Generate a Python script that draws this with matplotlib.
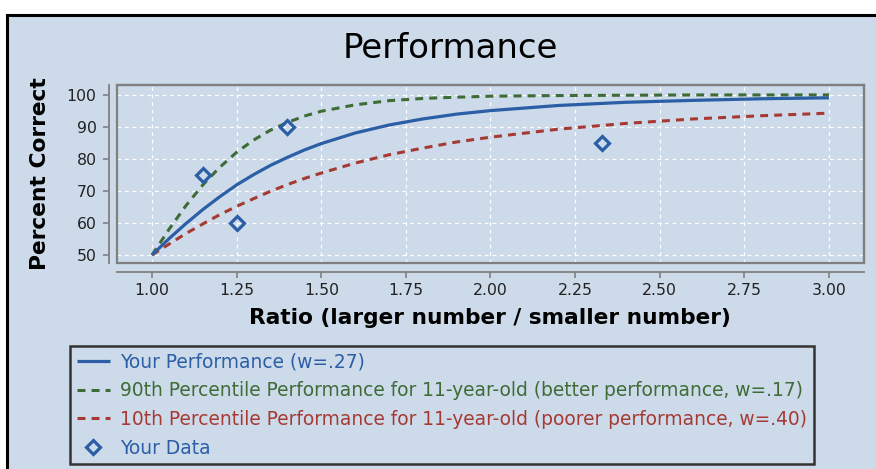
import matplotlib
matplotlib.use("Agg")
import matplotlib.pyplot as plt
from matplotlib.patches import Rectangle

# ---- data ----
ratio = [1.00, 1.05, 1.10, 1.15, 1.20, 1.25, 1.30, 1.35, 1.40, 1.45, 1.50,
         1.60, 1.70, 1.80, 1.90, 2.00, 2.20, 2.40, 2.60, 2.80, 3.00]
your_perf = [50, 55.1, 59.8, 64.2, 68.2, 71.9, 75.1, 78.0, 80.5, 82.8, 84.8,
             88.1, 90.6, 92.5, 94.0, 95.1, 96.7, 97.7, 98.3, 98.8, 99.1]
p90_perf = [50, 58.0, 65.4, 71.9, 77.4, 82.1, 85.9, 89.0, 91.4, 93.4, 94.9,
            96.9, 98.2, 98.9, 99.3, 99.6, 99.8, 99.9, 100, 100, 100]
p10_perf = [50, 53.4, 56.7, 59.7, 62.6, 65.2, 67.6, 69.9, 72.0, 73.9, 75.6,
            78.7, 81.3, 83.4, 85.3, 86.8, 89.3, 91.1, 92.5, 93.5, 94.3]
data_ratio = [1.15, 1.25, 1.40, 2.33]
data_pct = [75, 60, 90, 85]

xticks = [1.00, 1.25, 1.50, 1.75, 2.00, 2.25, 2.50, 2.75, 3.00]
yticks = [50, 60, 70, 80, 90, 100]

labels = ["Your Performance (w=.27)",
          "90th Percentile Performance for 11-year-old (better performance, w=.17)",
          "10th Percentile Performance for 11-year-old (poorer performance, w=.40)",
          "Your Data"]

# ---- style ----
BG = "#CCDAEA"
BLUE = "#2C5EA6"
GREEN = "#3E6B36"
RED = "#A63A33"
GRAY = "#808080"

W, H = 876, 469
DPI = 100
fig = plt.figure(figsize=(W / DPI, H / DPI), dpi=DPI)
fig.patch.set_facecolor("white")

# chart panel with black top/left border
panel = Rectangle((7 / W, -0.1), 1.2, (H - 15) / H + 0.1, transform=fig.transFigure,
                  facecolor=BG, edgecolor="black", lw=2.2, zorder=-10)
fig.patches.append(panel)

px_l, px_r, px_t, px_b = 117, 864, 85, 263
ax = fig.add_axes([px_l / W, (H - px_b) / H, (px_r - px_l) / W, (px_b - px_t) / H])
ax.set_facecolor(BG)

DASH = (0, (2.6, 2.0))
ax.plot(ratio, your_perf, color=BLUE, lw=2.3, solid_capstyle="butt", label=labels[0], zorder=4)
ax.plot(ratio, p90_perf, color=GREEN, lw=2.2, linestyle=DASH, label=labels[1], zorder=3)
ax.plot(ratio, p10_perf, color=RED, lw=2.2, linestyle=DASH, label=labels[2], zorder=3)
ax.plot(data_ratio, data_pct, linestyle="none", marker="D", markersize=7,
        markerfacecolor="none", markeredgecolor=BLUE, markeredgewidth=2.3,
        color=BLUE, label=labels[3], zorder=5)

ax.set_xlim(0.8964, 3.1036)
ax.set_ylim(47.5, 103.1)
ax.set_xticks(xticks)
ax.set_xticklabels([f"{t:.2f}" for t in xticks])
ax.set_yticks(yticks)
ax.set_yticklabels([str(t) for t in yticks])

ax.grid(True, color="white", linestyle=(0, (3, 3)), lw=0.9)
ax.set_axisbelow(True)

for s in ["top", "right"]:
    ax.spines[s].set_color(GRAY)
    ax.spines[s].set_linewidth(1.6)
ax.spines["left"].set_position(("outward", 8 * 72 / DPI))
ax.spines["bottom"].set_position(("outward", 9 * 72 / DPI))
for s in ["left", "bottom"]:
    ax.spines[s].set_color(GRAY)
    ax.spines[s].set_linewidth(1.3)
border = Rectangle((0, 0), 1, 1, transform=ax.transAxes, fill=False,
                   edgecolor=GRAY, lw=1.6, clip_on=False, zorder=6)
ax.add_patch(border)

ax.tick_params(axis="both", colors=GRAY, labelcolor="#222222", labelsize=11.3,
               length=4, width=1.2)
ax.tick_params(axis="y", pad=5)
ax.tick_params(axis="x", pad=4)

fig.text(450 / W, 1 - 48 / H, "Performance", ha="center", va="center",
         fontsize=24.5, color="black")
fig.text(40 / W, 1 - 174 / H, "Percent Correct", ha="center", va="center",
         rotation=90, fontsize=15.7, fontweight="bold", color="black")
fig.text(490 / W, 1 - 318 / H, "Ratio (larger number / smaller number)",
         ha="center", va="center", fontsize=15.6, fontweight="bold", color="black")

leg = fig.legend(loc="upper left", bbox_to_anchor=(70 / W, 1 - 346 / H),
                 bbox_transform=fig.transFigure, fontsize=13.4,
                 labelcolor=[BLUE, GREEN, RED, BLUE],
                 frameon=True, fancybox=False, borderpad=0.35,
                 handlelength=1.8, handletextpad=0.55, labelspacing=0.52,
                 borderaxespad=0)
frame = leg.get_frame()
frame.set_facecolor(BG)
frame.set_edgecolor("#333333")
frame.set_linewidth(1.8)
frame.set_alpha(1)

fig.savefig("out.png", dpi=DPI, facecolor=fig.get_facecolor())
